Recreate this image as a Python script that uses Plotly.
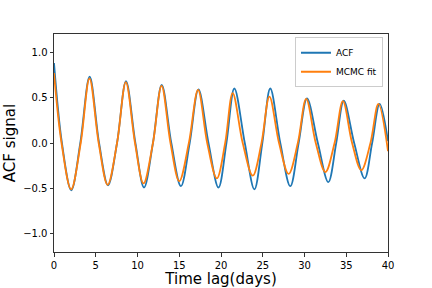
import plotly.graph_objects as go

# ACF series: key points (extrema and zero crossings)
acf_x = [0, 0.95, 2.07, 3.15, 4.27, 5.4, 6.47, 7.55, 8.62, 9.75, 10.78, 11.85,
         12.9, 14.05, 15.2, 16.25, 17.3, 18.5, 19.7, 20.65, 21.6, 22.85, 24.0,
         24.95, 25.9, 27.1, 28.3, 29.3, 30.3, 31.6, 32.85, 33.8, 34.7, 35.95,
         37.2, 38.1, 39.0, 40.0]
acf_y = [0.88, 0.0, -0.52, 0.0, 0.73, 0.0, -0.465, 0.0, 0.68, 0.0, -0.49, 0.0,
         0.64, 0.0, -0.475, 0.0, 0.59, 0.0, -0.49, 0.0, 0.60, 0.0, -0.51,
         0.0, 0.60, 0.0, -0.475, 0.0, 0.49, 0.0, -0.43, 0.0, 0.465, 0.0,
         -0.39, 0.0, 0.43, 0.02]

# MCMC fit series
fit_x = [0, 0.9, 2.05, 3.2, 4.25, 5.35, 6.42, 7.55, 8.6, 9.7, 10.72, 11.85,
         12.88, 13.95, 15.0, 16.15, 17.25, 18.35, 19.5, 20.5, 21.4, 22.6, 23.8,
         24.85, 25.8, 26.95, 28.1, 29.2, 30.2, 31.35, 32.5, 33.6, 34.6, 35.7,
         36.8, 37.9, 38.85, 40.0]
fit_y = [0.77, 0.0, -0.51, 0.0, 0.71, 0.0, -0.46, 0.0, 0.67, 0.0, -0.445, 0.0,
         0.63, 0.0, -0.42, 0.0, 0.585, 0.0, -0.39, 0.0, 0.55, 0.0, -0.36,
         0.0, 0.51, 0.0, -0.34, 0.0, 0.485, 0.0, -0.32, 0.0, 0.46, 0.0,
         -0.30, 0.0, 0.43, -0.09]

x_ticks = [0, 5, 10, 15, 20, 25, 30, 35, 40]
y_ticks = [-1.0, -0.5, 0.0, 0.5, 1.0]

fig = go.Figure()
fig.add_trace(go.Scatter(x=acf_x, y=acf_y, mode="lines", name="ACF",
                         line=dict(color="#1f77b4", width=1.8, shape="spline", smoothing=1.0)))
fig.add_trace(go.Scatter(x=fit_x, y=fit_y, mode="lines", name="MCMC fit",
                         line=dict(color="#ff7f0e", width=1.8, shape="spline", smoothing=1.0)))

axis_common = dict(showgrid=False, zeroline=False, showline=True, linecolor="#333333",
                   linewidth=1, mirror=True, ticks="outside", ticklen=3.5,
                   tickcolor="#333333", tickwidth=1, automargin=False,
                   tickfont=dict(family="DejaVu Sans", size=10, color="black"))

fig.update_xaxes(range=[0, 40], tickvals=x_ticks,
                 title=dict(text="Time lag(days)", font=dict(family="DejaVu Sans", size=15, color="black"), standoff=2),
                 **axis_common)
fig.update_yaxes(range=[-1.2, 1.2], tickvals=y_ticks, tickformat=".1f",
                 title=dict(text="ACF signal", font=dict(family="DejaVu Sans", size=15, color="black"), standoff=3),
                 **axis_common)

fig.update_layout(
    width=432, height=288,
    margin=dict(l=54, r=44, t=34, b=36, autoexpand=False),
    paper_bgcolor="white", plot_bgcolor="white",
    showlegend=True,
    legend=dict(x=0.985, y=0.985, xanchor="right", yanchor="top",
                bgcolor="rgba(255,255,255,0.8)", bordercolor="#cccccc", borderwidth=1,
                font=dict(family="DejaVu Sans", size=9, color="black"),
                tracegroupgap=0, itemwidth=30),
    font=dict(family="DejaVu Sans"),
)

fig.write_html("out.html", config={"displayModeBar": False},
               post_script="document.body.style.margin='0px';document.body.style.overflow='hidden';")
